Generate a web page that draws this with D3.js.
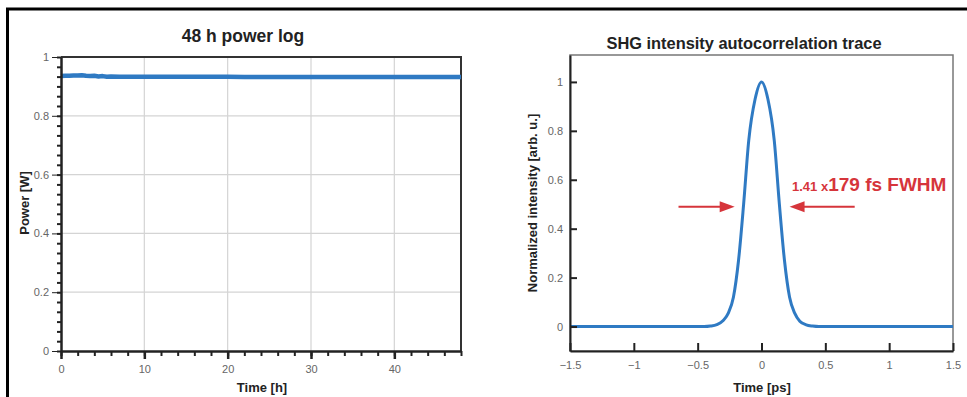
<!DOCTYPE html>
<head>
<title>Power log and autocorrelation</title>
<meta charset="utf-8">
<style>
body { margin: 0; background: #fff; }
text { font-family: "Liberation Sans", Arial, sans-serif; }
.axis text { font-size: 11px; fill: #666; }
.axis path, .axis line { stroke: #222; }
.grid line { stroke: #d4d4d4; stroke-width: 1.2px; }
.title { font-weight: bold; fill: #222; }
.label { font-size: 13px; font-weight: bold; fill: #222; }
.trace { fill: none; stroke: #2f7ac3; stroke-linejoin: round; }
</style>
</head>
<body>
<svg width="967" height="397"></svg>
<script src="https://cdn.jsdelivr.net/npm/d3@7/dist/d3.min.js"></script>
<script>
// 48 h power log (hours, watts)
const logHours = [0,0.5,1,1.5,2,2.5,3,3.5,4,4.5,5,5.5,6,7,8,10,12,14,16,18,20,22,24,26,28,30,32,34,36,38,40,42,44,46,48];
const logPower = [0.935,0.936,0.936,0.937,0.937,0.938,0.936,0.935,0.936,0.934,0.935,0.933,0.934,0.933,0.933,0.933,0.933,0.933,0.933,0.933,0.933,0.932,0.932,0.932,0.932,0.932,0.932,0.932,0.932,0.932,0.932,0.932,0.932,0.932,0.932];

// SHG autocorrelation trace (ps, normalized)
const acTime = [-1.5,-0.9,-0.45,-0.4,-0.35,-0.3,-0.26,-0.22,-0.18,-0.14,-0.1,-0.05,0,0.05,0.1,0.14,0.18,0.22,0.26,0.3,0.35,0.4,0.45,0.9,1.5];
const acValue = [0,0,0,0.002,0.008,0.025,0.055,0.12,0.27,0.5,0.76,0.93,1,0.93,0.76,0.5,0.27,0.12,0.055,0.022,0.007,0.002,0,0,0];

const powerTicks = [0,0.2,0.4,0.6,0.8,1];
const hourTicks = [0,10,20,30,40];
const intensityTicks = [0,0.2,0.4,0.6,0.8,1];
const psTicks = [-1.5,-1,-0.5,0,0.5,1,1.5];
const fwhmFactor = "1.41 x";
const fwhmText = "179 fs FWHM";

const svg = d3.select("svg");

// outer frame (cropped figure border)
svg.append("line").attr("x1", 6).attr("x2", 967).attr("y1", 9).attr("y2", 9)
  .attr("stroke", "#000").attr("stroke-width", 3);
svg.append("line").attr("x1", 7.5).attr("x2", 7.5).attr("y1", 8).attr("y2", 397)
  .attr("stroke", "#000").attr("stroke-width", 3);

// ---------- left: power log ----------
const xL = d3.scaleLinear().domain([0, 48]).range([61, 461]);
const yL = d3.scaleLinear().domain([0, 1]).range([351, 57]);

const gl = svg.append("g");
gl.append("g").attr("class", "grid")
  .selectAll("line.v").data(hourTicks.slice(1)).join("line")
  .attr("x1", d => xL(d)).attr("x2", d => xL(d)).attr("y1", yL(0)).attr("y2", yL(1));
gl.append("g").attr("class", "grid")
  .selectAll("line.h").data(powerTicks.slice(1, -1)).join("line")
  .attr("x1", xL(0)).attr("x2", xL(48)).attr("y1", d => yL(d)).attr("y2", d => yL(d));

// frame top/right
gl.append("path")
  .attr("d", `M${xL(0)},${yL(1)}H${xL(48)}V${yL(0)}`)
  .attr("fill", "none").attr("stroke", "#333").attr("stroke-width", 2);

gl.append("path")
  .datum(d3.zip(logHours, logPower))
  .attr("class", "trace").attr("stroke-width", 4.5)
  .attr("d", d3.line().x(d => xL(d[0])).y(d => yL(d[1])));

// minor ticks
gl.append("g").attr("class", "axis").attr("transform", `translate(${xL(0)},0)`)
  .call(d3.axisLeft(yL).tickValues(d3.range(0, 31).map(i => i / 30)).tickSize(4).tickFormat(""))
  .call(g => g.select(".domain").remove());
gl.append("g").attr("class", "axis").attr("transform", `translate(0,${yL(0)})`)
  .call(d3.axisBottom(xL).tickValues(d3.range(0, 49, 2)).tickSize(5).tickFormat(""))
  .call(g => g.select(".domain").remove());
gl.selectAll(".axis line").attr("stroke-width", 2);

// major ticks
gl.append("g").attr("class", "axis").attr("transform", `translate(${xL(0)},0)`)
  .call(d3.axisLeft(yL).tickValues(powerTicks).tickSize(9).tickSizeOuter(0).tickPadding(3).tickFormat(d3.format("~g")))
  .call(g => g.select(".domain").attr("stroke-width", 2.5));
gl.append("g").attr("class", "axis").attr("transform", `translate(0,${yL(0)})`)
  .call(d3.axisBottom(xL).tickValues(hourTicks).tickSize(8).tickSizeOuter(0).tickPadding(6))
  .call(g => g.select(".domain").attr("stroke-width", 2.5))
  .call(g => g.selectAll(".tick line").attr("stroke-width", 2.5));

gl.append("text").attr("class", "title").attr("x", 243).attr("y", 42)
  .attr("text-anchor", "middle").style("font-size", "17.5px").text("48 h power log");
gl.append("text").attr("class", "label").attr("x", 262).attr("y", 392)
  .attr("text-anchor", "middle").text("Time [h]");
gl.append("text").attr("class", "label")
  .attr("transform", "translate(29,203) rotate(-90)")
  .attr("text-anchor", "middle").text("Power [W]");

// ---------- right: autocorrelation ----------
const xR = d3.scaleLinear().domain([-1.5, 1.5]).range([570, 953]);
const yR = d3.scaleLinear().domain([-0.1, 1.11]).range([351, 55]);

const gr = svg.append("g");
gr.append("rect")
  .attr("x", xR(-1.5)).attr("y", yR(1.11))
  .attr("width", xR(1.5) - xR(-1.5)).attr("height", yR(-0.1) - yR(1.11))
  .attr("fill", "none").attr("stroke", "#777").attr("stroke-width", 1.5);

gr.append("path")
  .datum(d3.zip(acTime, acValue))
  .attr("class", "trace").attr("stroke-width", 3)
  .attr("d", d3.line().curve(d3.curveMonotoneX).x(d => xR(d[0])).y(d => yR(d[1])));

gr.append("g").attr("class", "axis").attr("transform", `translate(${xR(-1.5)},0)`)
  .call(d3.axisLeft(yR).tickValues(intensityTicks).tickSizeInner(-7).tickSizeOuter(0).tickPadding(7).tickFormat(d3.format("~g")))
  .call(g => g.select(".domain").attr("stroke-width", 2))
  .call(g => g.selectAll(".tick line").attr("stroke-width", 2));
gr.append("g").attr("class", "axis").attr("transform", `translate(0,${yR(-0.1)})`)
  .call(d3.axisBottom(xR).tickValues(psTicks).tickSizeInner(-8).tickSizeOuter(0).tickPadding(10).tickFormat(d3.format("~g")))
  .call(g => g.select(".domain").attr("stroke-width", 2))
  .call(g => g.selectAll(".tick line").attr("stroke-width", 2));

gr.append("text").attr("class", "title").attr("x", 744).attr("y", 49)
  .attr("text-anchor", "middle").style("font-size", "16.4px").text("SHG intensity autocorrelation trace");
gr.append("text").attr("class", "label").attr("x", 762).attr("y", 392)
  .attr("text-anchor", "middle").text("Time [ps]");
gr.append("text").attr("class", "label")
  .attr("transform", "translate(537,203) rotate(-90)")
  .attr("text-anchor", "middle").text("Normalized intensity [arb. u.]");

// FWHM arrows
const red = "#d6353b";
const halfY = yR(0.49);
const arrows = [
  {from: -0.65, to: -0.21},
  {from: 0.73, to: 0.22}
];
arrows.forEach(a => {
  const x0 = xR(a.from), x1 = xR(a.to), dir = Math.sign(x1 - x0);
  gr.append("line").attr("x1", x0).attr("x2", x1 - dir * 12).attr("y1", halfY).attr("y2", halfY)
    .attr("stroke", red).attr("stroke-width", 2);
  gr.append("path")
    .attr("d", `M${x1},${halfY}L${x1 - dir * 15},${halfY - 5.5}L${x1 - dir * 15},${halfY + 5.5}Z`)
    .attr("fill", red);
});
const ft = gr.append("text").attr("x", 792).attr("y", 191).attr("fill", red).attr("font-weight", "bold");
ft.append("tspan").attr("font-size", "13px").text(fwhmFactor);
ft.append("tspan").attr("font-size", "19px").text(fwhmText);
</script>
</body>
